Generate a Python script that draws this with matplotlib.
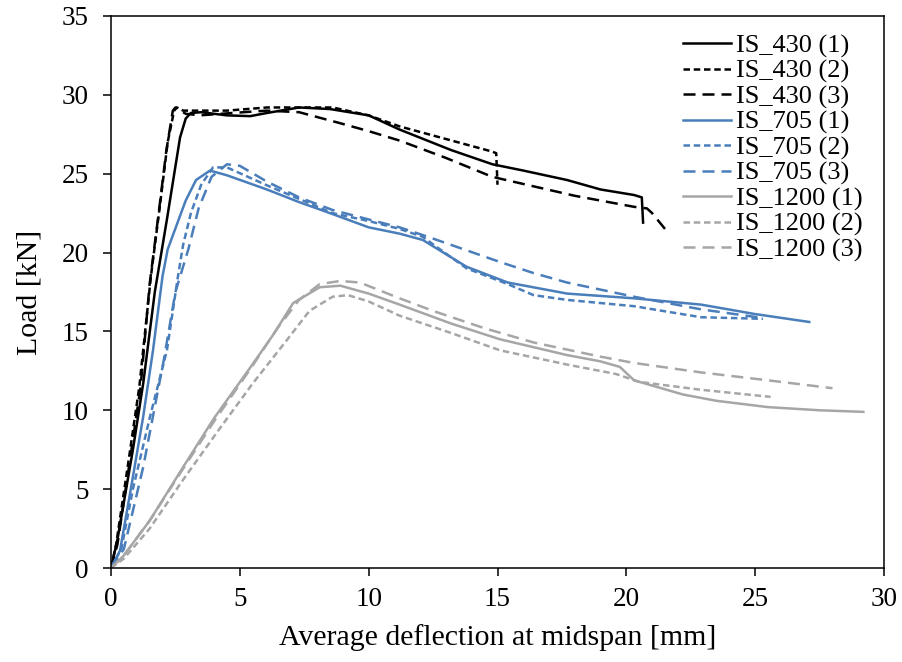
import matplotlib
matplotlib.use("Agg")
import matplotlib.pyplot as plt

plt.rcParams['font.family'] = ['Liberation Serif', 'DejaVu Serif']

# ---- data (deflection mm, load kN) ----
is430_1_x = [0, 0.25, 0.85, 1.25, 1.7, 2.17, 2.68, 2.9, 3.1, 3.5, 4.5, 5.4, 6.05, 7.3, 8.5, 10.0, 11.2, 13.2, 14.8, 16.0, 17.7, 19.0, 20.3, 20.6, 20.65]
is430_1_y = [0, 1.8, 7.5, 11.7, 17.5, 22.1, 27.3, 28.5, 28.85, 28.9, 28.7, 28.65, 28.85, 29.2, 29.1, 28.7, 27.8, 26.5, 25.6, 25.2, 24.6, 24.0, 23.65, 23.5, 21.9]

is430_2_x = [0, 0.2, 0.7, 1.1, 1.55, 1.9, 2.2, 2.45, 2.56, 2.8, 3.2, 4.5, 6.05, 7.3, 8.6, 10.0, 11.2, 13.0, 14.8, 14.95, 15.0]
is430_2_y = [0, 1.5, 7.0, 11.5, 18.5, 23.0, 27.0, 29.0, 29.2, 29.0, 29.0, 29.0, 29.2, 29.2, 29.2, 28.7, 28.0, 27.2, 26.4, 26.3, 24.3]

is430_3_x = [0, 0.25, 0.75, 1.15, 1.5, 1.85, 2.15, 2.4, 2.5, 2.9, 3.45, 4.7, 6.05, 7.3, 8.9, 10.0, 11.2, 13.0, 14.8, 16.4, 18.0, 20.3, 20.8, 21.0, 21.6]
is430_3_y = [0, 1.5, 7.0, 11.5, 18.0, 22.5, 26.5, 29.0, 29.2, 28.8, 28.7, 28.85, 29.0, 28.9, 28.2, 27.7, 27.1, 26.0, 24.8, 24.2, 23.6, 22.9, 22.8, 22.5, 21.3]

is705_1_x = [0, 0.35, 0.8, 1.25, 1.63, 2.0, 2.2, 2.56, 2.9, 3.3, 3.84, 4.5, 6.05, 7.3, 8.5, 10.0, 11.2, 12.1, 12.5, 13.2, 13.8, 15.4, 17.7, 20.3, 22.9, 25.0, 27.1]
is705_1_y = [0, 1.1, 5.3, 9.6, 13.8, 18.5, 20.2, 21.8, 23.3, 24.6, 25.2, 24.9, 24.0, 23.2, 22.5, 21.6, 21.2, 20.8, 20.4, 19.7, 19.1, 18.1, 17.4, 17.1, 16.7, 16.1, 15.6]

is705_2_x = [0, 0.4, 0.85, 1.5, 2.17, 2.6, 2.8, 3.1, 3.5, 3.96, 4.5, 6.0, 7.3, 8.6, 10.0, 11.2, 12.1, 12.6, 13.8, 15.4, 16.4, 17.7, 19.0, 20.3, 22.9, 25.3]
is705_2_y = [0, 1.2, 5.0, 9.5, 13.8, 18.5, 20.5, 22.5, 24.3, 25.4, 25.4, 24.3, 23.4, 22.5, 22.0, 21.5, 21.0, 20.4, 19.0, 18.0, 17.3, 17.0, 16.8, 16.6, 15.9, 15.8]

is705_3_x = [0, 0.5, 1.25, 2.05, 2.5, 3.0, 3.4, 3.9, 4.5, 5.0, 6.05, 7.3, 8.6, 10.0, 11.2, 12.3, 13.7, 15.1, 16.4, 17.7, 20.3, 22.9, 25.3]
is705_3_y = [0, 1.2, 6.4, 13.2, 17.5, 20.2, 22.8, 24.8, 25.6, 25.5, 24.5, 23.5, 22.7, 22.1, 21.6, 21.0, 20.2, 19.4, 18.7, 18.1, 17.2, 16.4, 15.85]

is1200_1_x = [0, 0.5, 1.5, 2.8, 4.0, 5.4, 6.3, 7.07, 8.1, 8.9, 10.0, 11.2, 13.2, 15.1, 17.7, 19.0, 19.75, 20.3, 22.2, 23.5, 25.5, 27.5, 29.2]
is1200_1_y = [0, 0.8, 3.0, 6.4, 9.5, 12.7, 14.8, 16.8, 17.8, 17.9, 17.4, 16.7, 15.5, 14.5, 13.5, 13.1, 12.75, 11.9, 11.0, 10.6, 10.2, 10.0, 9.9]

is1200_2_x = [0, 0.5, 1.5, 2.8, 4.2, 5.5, 6.8, 7.7, 8.6, 9.2, 10.0, 11.2, 13.2, 15.1, 17.7, 19.6, 20.5, 22.9, 25.6]
is1200_2_y = [0, 0.6, 2.5, 5.6, 8.8, 11.7, 14.4, 16.3, 17.2, 17.3, 16.9, 16.0, 14.9, 13.8, 12.9, 12.3, 11.8, 11.3, 10.85]

is1200_3_x = [0, 0.5, 1.5, 2.8, 4.0, 5.4, 6.5, 7.3, 8.1, 8.9, 9.66, 11.2, 12.5, 14.5, 16.4, 19.0, 20.3, 22.9, 25.5, 28.0]
is1200_3_y = [0, 0.8, 3.0, 6.3, 9.3, 12.6, 15.3, 17.0, 18.0, 18.2, 18.1, 17.1, 16.3, 15.2, 14.3, 13.4, 13.0, 12.4, 11.9, 11.4]

labels = ['IS_430 (1)', 'IS_430 (2)', 'IS_430 (3)',
          'IS_705 (1)', 'IS_705 (2)', 'IS_705 (3)',
          'IS_1200 (1)', 'IS_1200 (2)', 'IS_1200 (3)']
xticks = [0, 5, 10, 15, 20, 25, 30]
yticks = [0, 5, 10, 15, 20, 25, 30, 35]

BLACK = '#000000'
BLUE = '#4a7ebb'
GREY = '#a6a6a6'
SOLID = '-'
SHORT = (0, (2.6, 1.5))
LONG = (0, (4.8, 2.8))

series = [
    (is430_1_x, is430_1_y, BLACK, SOLID),
    (is430_2_x, is430_2_y, BLACK, SHORT),
    (is430_3_x, is430_3_y, BLACK, LONG),
    (is705_1_x, is705_1_y, BLUE, SOLID),
    (is705_2_x, is705_2_y, BLUE, SHORT),
    (is705_3_x, is705_3_y, BLUE, LONG),
    (is1200_1_x, is1200_1_y, GREY, SOLID),
    (is1200_2_x, is1200_2_y, GREY, SHORT),
    (is1200_3_x, is1200_3_y, GREY, LONG),
]

fig = plt.figure(figsize=(9.02, 6.62), dpi=100)
ax = fig.add_axes([111/902, 1-568/662, (884-111)/902, (568-16)/662])

for (x, y, c, ls), lab in zip(series, labels):
    ax.plot(x, y, color=c, linestyle=ls, linewidth=1.8, label=lab)

ax.set_xlim(0, 30)
ax.set_ylim(0, 35)
ax.set_xticks(xticks)
ax.set_yticks(yticks)
ax.tick_params(axis='both', direction='out', length=6, width=1.1, labelsize=19.5, colors='black')
ax.tick_params(axis='y', pad=10)
ax.tick_params(axis='x', pad=8)
for s in ax.spines.values():
    s.set_linewidth(1.1)

ax.set_xlabel('Average deflection at midspan [mm]', fontsize=21.5, labelpad=8)
ax.set_ylabel('Load [kN]', fontsize=21.5, labelpad=14)

leg = ax.legend(loc='upper left', bbox_to_anchor=((683-111)/773, (568-34)/552),
                frameon=False, fontsize=19, handlelength=1.8, handletextpad=0.2,
                labelspacing=0.06, borderpad=0, borderaxespad=0)

fig.savefig('out.png', dpi=100)
